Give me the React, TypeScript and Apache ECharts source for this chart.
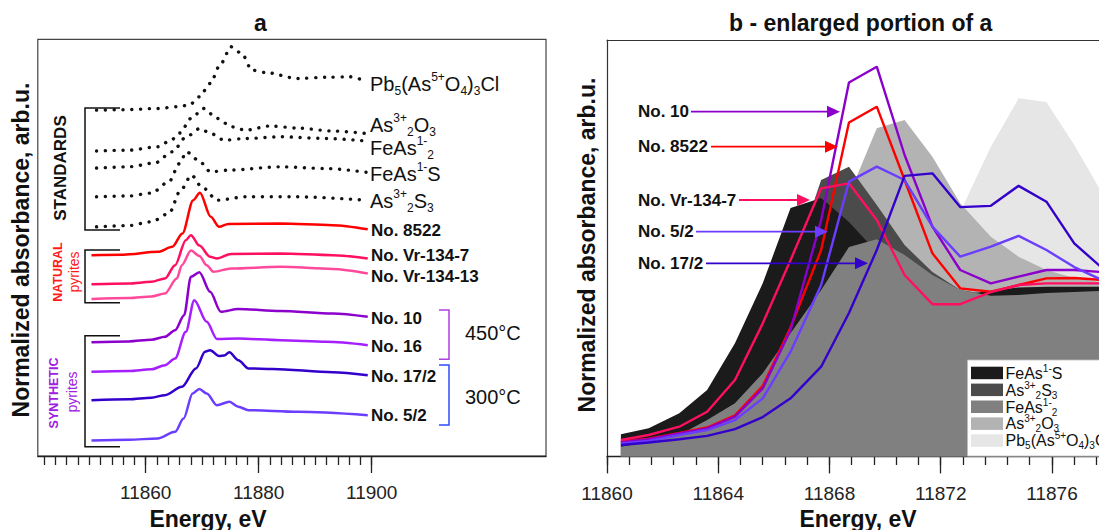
import React, { useEffect, useRef } from 'react';
import * as echarts from 'echarts';

const FF = '"Liberation Sans", Arial, Helvetica, sans-serif';

// ---------- Panel a : stacked spectra [energy eV, offset absorbance] ----------
const pbA = [[11851.3, 8.30], [11856, 8.31], [11862.1, 8.34], [11865.5, 8.38], [11867.7, 8.42], [11869.5, 8.62], [11871.4, 8.94], [11873.3, 9.42], [11875.1, 9.82], [11877.0, 9.66], [11878.8, 9.26], [11881.3, 9.20], [11886.9, 9.06], [11892, 9.09], [11896.2, 9.10], [11899.0, 8.99]];
const as2o3A = [[11851.3, 7.32], [11857, 7.34], [11862.2, 7.42], [11864.5, 7.58], [11866, 7.75], [11868.1, 8.11], [11870.2, 8.34], [11872.7, 8.10], [11875.2, 7.90], [11877.7, 7.82], [11882, 7.92], [11886.9, 7.87], [11893, 7.80], [11899, 7.74]];
const feas2A = [[11851.3, 6.91], [11857, 6.94], [11861.6, 7.03], [11864.7, 7.30], [11867.2, 7.66], [11869.6, 7.86], [11871.5, 7.74], [11873.9, 7.58], [11877.7, 7.62], [11883.8, 7.66], [11892, 7.62], [11899, 7.56]];
const feasA = [[11851.3, 6.22], [11857, 6.24], [11861, 6.31], [11864.1, 6.58], [11866, 7.02], [11867.2, 7.30], [11869.3, 7.10], [11871.5, 6.82], [11874.6, 6.86], [11883.8, 6.94], [11892, 6.90], [11899, 6.81]];
const as2s3A = [[11851.3, 5.50], [11857, 5.53], [11861, 5.62], [11864.1, 5.82], [11866.2, 6.38], [11868.1, 6.74], [11869.9, 6.46], [11872.7, 6.14], [11877.7, 6.22], [11886.9, 6.22], [11899, 6.14]];
const no8522A = [[11850.4, 4.82], [11856, 4.83], [11862.2, 4.90], [11864.7, 5.02], [11866.5, 5.34], [11868.4, 6.14], [11869.6, 6.32], [11871.5, 5.74], [11873, 5.50], [11874.6, 5.57], [11883.8, 5.58], [11893, 5.54], [11899.3, 5.44]];
const vr7A = [[11850.4, 4.12], [11857, 4.14], [11861, 4.18], [11863.4, 4.26], [11865.2, 4.58], [11867.1, 5.18], [11868.0, 5.30], [11869.5, 5.05], [11871.4, 4.78], [11872.6, 4.74], [11875.1, 4.85], [11883.8, 4.86], [11893.1, 4.82], [11899.3, 4.74]];
const vr13A = [[11850.4, 3.77], [11857, 3.79], [11861, 3.83], [11863.4, 3.90], [11865.5, 4.26], [11866.4, 4.58], [11868.0, 4.93], [11869.5, 4.80], [11870.8, 4.58], [11872.0, 4.42], [11875.1, 4.50], [11883.8, 4.54], [11893.1, 4.49], [11899.3, 4.38]];
const no10A = [[11850.4, 2.73], [11857, 2.75], [11861, 2.79], [11863.4, 2.86], [11865.2, 3.02], [11866.8, 3.38], [11868.0, 4.30], [11869.5, 4.41], [11871.4, 3.94], [11873.3, 3.46], [11876.4, 3.53], [11883.8, 3.48], [11893.1, 3.42], [11899.3, 3.34]];
const no16A = [[11850.4, 2.02], [11857, 2.04], [11861, 2.08], [11863.4, 2.18], [11865.2, 2.34], [11867.1, 2.98], [11868.6, 3.74], [11870.8, 3.22], [11872.6, 2.81], [11876.4, 2.82], [11883.8, 2.78], [11892, 2.74], [11899.3, 2.66]];
const no172A = [[11850.4, 1.34], [11857, 1.36], [11861, 1.40], [11863.4, 1.46], [11866.4, 1.66], [11868.9, 2.10], [11870.5, 2.50], [11871.4, 2.54], [11873.0, 2.40], [11873.9, 2.41], [11874.8, 2.49], [11876.4, 2.30], [11878.2, 2.10], [11882.5, 2.09], [11893.1, 2.01], [11899.3, 1.94]];
const no52A = [[11850.4, 0.37], [11857, 0.39], [11862.1, 0.42], [11865.2, 0.58], [11866.7, 0.90], [11868.3, 1.50], [11869.5, 1.61], [11870.8, 1.50], [11872.6, 1.22], [11874.8, 1.30], [11876.4, 1.18], [11878.2, 1.10], [11886.9, 1.06], [11899.3, 0.98]];

// ---------- Panel b : enlarged portion ----------
const energiesB = [11860.5, 11861.5, 11862.6, 11863.6, 11864.6, 11865.6, 11866.6, 11867.7, 11868.7, 11869.7, 11870.7, 11871.7, 11872.7, 11873.8, 11874.8, 11875.8, 11876.8, 11877.8];
const feasB = [0.54, 0.68, 1.04, 1.60, 2.72, 4.16, 5.97, 6.21, 5.63, 4.91, 4.36, 4.00, 3.88, 3.98, 4.06, 4.08, 4.08, 4.08];
const as2s3B = [0.40, 0.50, 0.69, 1.05, 1.65, 2.68, 4.48, 6.64, 6.96, 6.04, 5.08, 4.43, 4.00, 3.88, 3.93, 3.98, 4.00, 4.00];
const feas2B = [0.24, 0.36, 0.52, 0.88, 1.28, 2.00, 2.96, 4.00, 5.03, 5.22, 4.84, 4.36, 4.00, 3.86, 3.88, 3.93, 3.95, 3.98];
const as2o3B = [0.33, 0.40, 0.50, 0.69, 1.00, 1.48, 2.32, 3.76, 6.28, 7.88, 8.08, 7.20, 6.08, 5.28, 4.80, 4.48, 4.29, 4.19];
const pbB = [0.28, 0.33, 0.40, 0.50, 0.64, 0.88, 1.24, 1.72, 2.32, 3.04, 3.88, 4.84, 5.87, 7.44, 8.60, 8.51, 7.48, 6.33];
const vr7B = [0.40, 0.52, 0.72, 1.08, 1.84, 3.20, 4.72, 6.44, 6.56, 5.68, 4.36, 3.66, 3.66, 3.95, 4.12, 4.16, 4.16, 4.16];
const no8522B = [0.36, 0.43, 0.57, 0.70, 0.99, 1.70, 3.10, 4.96, 8.02, 8.40, 6.64, 4.88, 4.04, 3.96, 4.12, 4.28, 4.29, 4.24];
const no10B = [0.35, 0.42, 0.56, 0.68, 0.96, 1.64, 3.04, 5.68, 8.98, 9.36, 7.24, 5.52, 4.48, 4.16, 4.32, 4.48, 4.48, 4.43];
const no52B = [0.32, 0.38, 0.52, 0.64, 0.88, 1.40, 2.52, 4.12, 6.60, 6.96, 6.64, 5.52, 4.80, 5.04, 5.30, 4.96, 4.55, 4.24];
const no172B = [0.28, 0.34, 0.42, 0.50, 0.66, 0.95, 1.40, 2.16, 3.45, 4.96, 6.74, 6.80, 5.99, 6.02, 6.50, 6.12, 5.12, 4.53];

// ---------- Ticks ----------
const ticksAMinor = [11842, 11844, 11846, 11848, 11850, 11852, 11854, 11856, 11858, 11860, 11862, 11864, 11866, 11868, 11870, 11872, 11874, 11876, 11878, 11880, 11882, 11884, 11886, 11888, 11890, 11892, 11894, 11896, 11898, 11900];
const ticksAMajor = [11860, 11880, 11900];
const ticksBMinor = [11860, 11860.8, 11861.6, 11862.4, 11863.2, 11864, 11864.8, 11865.6, 11866.4, 11867.2, 11868, 11868.8, 11869.6, 11870.4, 11871.2, 11872, 11872.8, 11873.6, 11874.4, 11875.2, 11876, 11876.8, 11877.6];
const ticksBMajor = [11860, 11864, 11868, 11872, 11876];

// ---------- Labels ----------
const stdRich = {
  FeAsS: '{m|FeAs}{sp|1-}{m|S}',
  As2S3: '{m|As}{sp|3+}{sb|2}{m|S}{sb|3}',
  FeAs2: '{m|FeAs}{sp|1-}{sb|2}',
  As2O3: '{m|As}{sp|3+}{sb|2}{m|O}{sb|3}',
  Pb: '{m|Pb}{sb|5}{m|(As}{sp|5+}{m|O}{sb|4}{m|)}{sb|3}{m|Cl}',
};

const C = {
  no8522: '#ff0000',
  vr7: '#ff0f5f',
  vr13: '#ff4a9c',
  no10: '#8c00cc',
  no16: '#a51fff',
  no172: '#3300cc',
  no52: '#6a3dff',
};

const grays = { FeAsS: '#1b1b1b', As2S3: '#4b4b4b', FeAs2: '#808080', As2O3: '#b3b3b3', Pb: '#e6e6e6' };

function richStyle(main: number, small: number, lh: number) {
  return {
    m: { fontSize: main, lineHeight: lh, fontFamily: FF, fill: '#111' },
    sp: { fontSize: small, lineHeight: small, verticalAlign: 'top', fontFamily: FF, fill: '#111' },
    sb: { fontSize: small, lineHeight: small, verticalAlign: 'bottom', fontFamily: FF, fill: '#111' },
  };
}

function txt(x: number, y: number, text: string, size: number, opts: any = {}) {
  return {
    type: 'text', x, y, z: 100, rotation: opts.rotation || 0,
    style: {
      text, fontSize: size, fontFamily: FF, fontWeight: opts.bold ? 'bold' : 'normal',
      fill: opts.color || '#111', align: opts.align || 'left', verticalAlign: 'middle',
    },
  };
}

function richTxt(x: number, y: number, text: string, rich: any) {
  return { type: 'text', x, y, z: 100, style: { text, rich, align: 'left', verticalAlign: 'middle' } };
}

function bracket(pts: number[][], color: string) {
  return { type: 'polyline', z: 100, shape: { points: pts }, style: { stroke: color, lineWidth: 1.5, fill: 'none' } };
}

function arrow(label: string, y: number, start: number, tip: number, color: string) {
  return [
    txt(638, y, label, 17, { bold: true }),
    { type: 'line', z: 100, shape: { x1: start, y1: y, x2: tip - 11, y2: y }, style: { stroke: color, lineWidth: 1.8 } },
    { type: 'polygon', z: 100, shape: { points: [[tip - 13, y - 6], [tip, y], [tip - 13, y + 6]] }, style: { fill: color } },
  ];
}

const dotted = { color: '#111', width: 3.4, type: [0.1, 8.7], cap: 'round' };

function lineA(name: string, data: number[][], lineStyle: any) {
  return {
    name, type: 'line', xAxisIndex: 0, yAxisIndex: 0, data, symbol: 'none', smooth: 0.3,
    smoothMonotone: 'x', silent: true, lineStyle,
  };
}

function zipB(vals: number[]) {
  return energiesB.map((e, i) => [e, vals[i]]);
}

function areaB(name: string, vals: number[], color: string) {
  return {
    name, type: 'line', xAxisIndex: 2, yAxisIndex: 1, data: zipB(vals), symbol: 'none', silent: true,
    lineStyle: { width: 0, color }, areaStyle: { color, opacity: 1 }, itemStyle: { color },
  };
}

function lineB(name: string, vals: number[], color: string) {
  return {
    name, type: 'line', xAxisIndex: 2, yAxisIndex: 1, data: zipB(vals), symbol: 'none', silent: true,
    lineStyle: { width: 2.4, color }, itemStyle: { color },
  };
}

const labelFmt = (v: number) => String(Math.round(v));

function xAxes(grid: number, min: number, max: number, minor: number[], major: number[], minorLen: number, majorLen: number) {
  return [
    {
      type: 'value', gridIndex: grid, min, max, position: 'bottom',
      axisLine: { show: true, lineStyle: { color: '#222', width: 1.3 } },
      axisTick: { show: true, customValues: minor, length: minorLen, lineStyle: { color: '#222', width: 1.3 } },
      axisLabel: { show: false }, splitLine: { show: false },
    },
    {
      type: 'value', gridIndex: grid, min, max, position: 'bottom',
      axisLine: { show: false },
      axisTick: { show: true, customValues: major, length: majorLen, lineStyle: { color: '#222', width: 1.3 } },
      axisLabel: { show: true, customValues: major, margin: 27, fontSize: 19, fontFamily: FF, color: '#222', formatter: labelFmt },
      splitLine: { show: false },
    },
  ];
}

export default function App() {
  const ref = useRef<HTMLDivElement>(null);
  useEffect(() => {
    document.body.style.margin = '0';
    const chart = echarts.init(ref.current!, null, { renderer: 'svg' });
    const rStd = richStyle(20, 12, 26);
    const rLeg = richStyle(16, 10, 20);

    const legendItems = [
      { key: 'FeAsS', color: grays.FeAsS },
      { key: 'As2S3', color: grays.As2S3 },
      { key: 'FeAs2', color: grays.FeAs2 },
      { key: 'As2O3', color: grays.As2O3 },
      { key: 'Pb', color: grays.Pb },
    ];
    const legendGraphics: any[] = [
      { type: 'rect', z: 99, shape: { x: 967.5, y: 360, width: 200, height: 96 }, style: { fill: '#fff', stroke: '#bbb', lineWidth: 0.8 } },
    ];
    legendItems.forEach((it, i) => {
      const y = 366.7 + i * 16.9;
      legendGraphics.push({ type: 'rect', z: 100, shape: { x: 971, y, width: 32, height: 12.5 }, style: { fill: it.color } });
      legendGraphics.push(richTxt(1005.5, y + 6.5, (stdRich as any)[it.key], rLeg));
    });

    const option: any = {
      animation: false,
      backgroundColor: '#fff',
      grid: [
        { left: 37.8, top: 39.3, width: 508.2, height: 416.7, show: true, borderColor: '#444', borderWidth: 1.2, containLabel: false, outerBoundsMode: 'none' },
        { left: 607, top: 40, width: 492, height: 416.7, show: false, containLabel: false, outerBoundsMode: 'none' },
      ],
      xAxis: [
        ...xAxes(0, 11840.9, 11930.85, ticksAMinor, ticksAMajor, 9, 17),
        ...xAxes(1, 11860, 11877.69, ticksBMinor, ticksBMajor, 8.3, 16.7),
        {
          type: 'value', gridIndex: 1, min: 11860, max: 11877.69, position: 'top',
          axisLine: { show: true, lineStyle: { color: '#333', width: 1.2 } },
          axisTick: { show: false }, axisLabel: { show: false }, splitLine: { show: false },
        },
      ],
      yAxis: [
        { type: 'value', gridIndex: 0, min: 0, max: 10, show: false },
        {
          type: 'value', gridIndex: 1, min: 0, max: 10, show: true,
          axisLine: { show: true, lineStyle: { color: '#333', width: 1.2 } },
          axisTick: { show: false }, axisLabel: { show: false }, splitLine: { show: false },
        },
      ],
      series: [
        lineA('Pb5(As5+O4)3Cl', pbA, dotted),
        lineA('As3+2O3', as2o3A, dotted),
        lineA('FeAs1-2', feas2A, dotted),
        lineA('FeAs1-S', feasA, dotted),
        lineA('As3+2S3', as2s3A, dotted),
        lineA('No. 8522', no8522A, { color: C.no8522, width: 2.5 }),
        lineA('No. Vr-134-7', vr7A, { color: C.vr7, width: 2.5 }),
        lineA('No. Vr-134-13', vr13A, { color: C.vr13, width: 2.5 }),
        lineA('No. 10', no10A, { color: C.no10, width: 2.5 }),
        lineA('No. 16', no16A, { color: C.no16, width: 2.5 }),
        lineA('No. 17/2', no172A, { color: C.no172, width: 2.5 }),
        lineA('No. 5/2', no52A, { color: C.no52, width: 2.5 }),
        areaB('Pb5(As5+O4)3Cl', pbB, grays.Pb),
        areaB('As3+2O3', as2o3B, grays.As2O3),
        areaB('As3+2S3', as2s3B, grays.As2S3),
        areaB('FeAs1-S', feasB, grays.FeAsS),
        areaB('FeAs1-2', feas2B, grays.FeAs2),
        lineB('No. 8522 (b)', no8522B, C.no8522),
        lineB('No. 10 (b)', no10B, C.no10),
        lineB('No. Vr-134-7 (b)', vr7B, C.vr7),
        lineB('No. 5/2 (b)', no52B, C.no52),
        lineB('No. 17/2 (b)', no172B, C.no172),
      ],
      graphic: [
        txt(260.5, 23, 'a', 23, { bold: true, align: 'center' }),
        txt(860.7, 23, 'b - enlarged portion of a', 23, { bold: true, align: 'center' }),
        txt(208, 519, 'Energy, eV', 23, { bold: true, align: 'center' }),
        txt(858, 519, 'Energy, eV', 23, { bold: true, align: 'center' }),
        txt(21, 250, 'Normalized absorbance, arb.u.', 23, { bold: true, align: 'center', rotation: Math.PI / 2 }),
        txt(586.7, 245, 'Normalized absorbance, arb.u.', 23, { bold: true, align: 'center', rotation: Math.PI / 2 }),
        // group labels
        txt(60, 168, 'STANDARDS', 17, { bold: true, align: 'center', rotation: Math.PI / 2 }),
        txt(57.5, 272, 'NATURAL', 12.5, { bold: true, align: 'center', rotation: Math.PI / 2, color: '#ff1a1a' }),
        txt(74, 272, 'pyrites', 14, { align: 'center', rotation: Math.PI / 2, color: '#ff1a1a' }),
        txt(54, 393, 'SYNTHETIC', 12.5, { bold: true, align: 'center', rotation: Math.PI / 2, color: '#a020e0' }),
        txt(72, 392, 'pyrites', 14, { align: 'center', rotation: Math.PI / 2, color: '#a020e0' }),
        bracket([[120, 108], [85, 108], [85, 230], [120, 230]], '#111'),
        bracket([[120, 250], [85, 250], [85, 302.7], [120, 302.7]], '#111'),
        bracket([[120, 335.7], [85, 335.7], [85, 446.7], [120, 446.7]], '#111'),
        // standards labels
        richTxt(370, 83.7, stdRich.Pb, rStd),
        richTxt(370, 124.5, stdRich.As2O3, rStd),
        richTxt(370, 147.5, stdRich.FeAs2, rStd),
        richTxt(370, 174, stdRich.FeAsS, rStd),
        richTxt(370, 200.8, stdRich.As2S3, rStd),
        // sample labels
        txt(371, 230, 'No. 8522', 17, { bold: true }),
        txt(371, 255, 'No. Vr-134-7', 17, { bold: true }),
        txt(371, 276.7, 'No. Vr-134-13', 17, { bold: true }),
        txt(371, 318.3, 'No. 10', 17, { bold: true }),
        txt(371, 346.7, 'No. 16', 17, { bold: true }),
        txt(371, 376.7, 'No. 17/2', 17, { bold: true }),
        txt(371, 415, 'No. 5/2', 17, { bold: true }),
        bracket([[439, 310], [449, 310], [449, 359.3], [439, 359.3]], '#b040e0'),
        bracket([[439, 365], [449, 365], [449, 425], [439, 425]], '#2a4dff'),
        txt(465, 333, '450°C', 20),
        txt(465, 396.7, '300°C', 20),
        // panel b annotations
        ...arrow('No. 10', 111.7, 691, 840, C.no10),
        ...arrow('No. 8522', 146.7, 711, 838, C.no8522),
        ...arrow('No. Vr-134-7', 200, 739, 810, C.vr7),
        ...arrow('No. 5/2', 231.7, 696, 828, C.no52),
        ...arrow('No. 17/2', 263.3, 706, 868, C.no172),
        ...legendGraphics,
      ],
    };
    chart.setOption(option);
    return () => chart.dispose();
  }, []);
  return <div ref={ref} style={{ position: 'fixed', left: 0, top: 0, width: 1099, height: 530 }} />;
}
